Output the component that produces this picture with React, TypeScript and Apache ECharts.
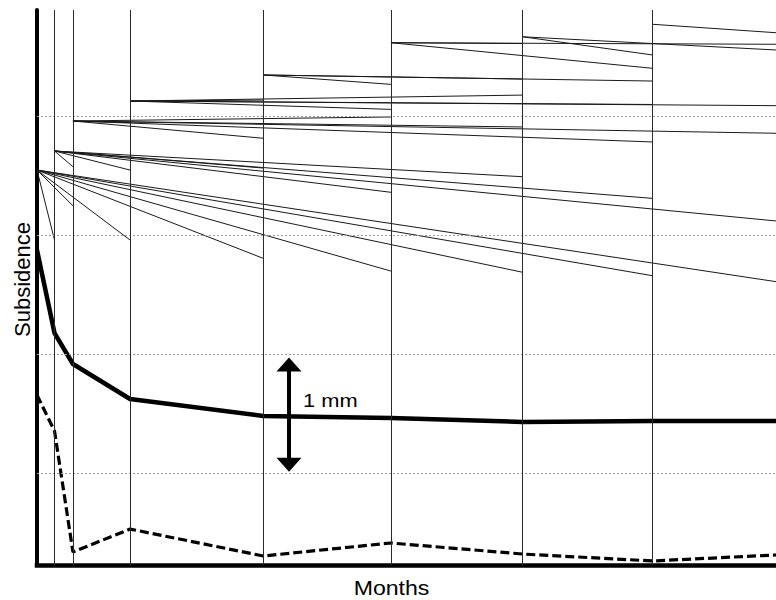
import React, { useEffect, useRef } from "react";
import * as echarts from "echarts";

// x: months (value axis), y: subsidence in mm (inverse axis, 0 = first grid level)
const xMax = 5.654;
const yTop = -0.891;
const yBottom = 3.773;

// checkpoints (index 8 = right edge of the plot)
const checkpoints = [0, 0.134, 0.275, 0.712, 1.731, 2.708, 3.715, 4.709, 5.654];
const verticalLines = [0.134, 0.275, 0.712, 1.731, 2.708, 3.715, 4.709];
const gridLevels = [0, 1, 2, 3];

// thick solid curve and dashed curve
const meanSubsidence = [1.126, 1.824, 2.084, 2.378, 2.521, 2.538, 2.571, 2.563, 2.563];
const rateSubsidence = [2.345, 2.647, 3.664, 3.471, 3.697, 3.588, 3.681, 3.739, 3.689];

// fan of thin segments: start level at checkpoint i, end levels at checkpoints i+1 ...
const fanStart = [0.454, 0.294, 0.042, -0.126, -0.345, -0.616, -0.666, -0.771];
const fanEnds0 = [1.042, 0.754, 1.042, 1.196, 1.303, 1.313, 1.342, 1.392];
const fanEnds1 = [0.426, 0.454, 0.437, 0.641, 0.51, 0.692, 0.882];
const fanEnds2 = [0.055, 0.187, 0.008, 0.092, 0.218, 0.145];
const fanEnds3 = [-0.134, -0.056, -0.176, -0.097, -0.087];
const fanEnds4 = [-0.266, -0.311, -0.294, null];
const fanEnds5 = [-0.609, -0.401, -0.603];
const fanEnds6 = [-0.513, -0.555];
const fanEnds7 = [-0.7];

// 1 mm scale arrow
const arrowMonth = 1.928;
const arrowFrom = 2.03;
const arrowTo = 2.99;
const arrowLabel = "1 mm";
const arrowLabelLevel = 2.385;

const xTitle = "Months";
const yTitle = "Subsidence";

const FONT = '"Liberation Sans", Arial, Helvetica, sans-serif';

function buildFan() {
  const all = [fanEnds0, fanEnds1, fanEnds2, fanEnds3, fanEnds4, fanEnds5, fanEnds6, fanEnds7];
  const out: any[] = [];
  all.forEach((ends, i) => {
    ends.forEach((v, k) => {
      if (v === null || v === undefined) return;
      out.push({
        coords: [
          [checkpoints[i], fanStart[i]],
          [checkpoints[i + 1 + k], v],
        ],
      });
    });
  });
  return out;
}

export default function App() {
  const ref = useRef<HTMLDivElement>(null);
  useEffect(() => {
    if (!ref.current) return;
    const chart = echarts.init(ref.current, undefined, { renderer: "svg" });
    const markData: any[] = [];
    gridLevels.forEach((g) =>
      markData.push({
        yAxis: g,
        lineStyle: { color: "#9a9a9a", width: 1, type: [2, 2] },
      })
    );
    verticalLines.forEach((v) =>
      markData.push({
        xAxis: v,
        lineStyle: { color: "#2a2a2a", width: 1, type: "solid" },
      })
    );
    chart.setOption({
      animation: false,
      backgroundColor: "#fff",
      grid: { left: 37, right: 0, top: 10, bottom: 35, containLabel: false },
      xAxis: {
        type: "value",
        min: 0,
        max: xMax,
        position: "bottom",
        axisLine: { show: true, onZero: false, lineStyle: { color: "#000", width: 4.5, cap: "square" } },
        axisTick: { show: false },
        axisLabel: { show: false },
        splitLine: { show: false },
      },
      yAxis: {
        type: "value",
        inverse: true,
        min: yTop,
        max: yBottom,
        axisLine: { show: true, onZero: false, lineStyle: { color: "#000", width: 4 } },
        axisTick: { show: false },
        axisLabel: { show: false },
        splitLine: { show: false },
      },
      series: [
        {
          type: "line",
          name: "grid",
          data: [],
          silent: true,
          z: 1,
          markLine: {
            silent: true,
            symbol: "none",
            label: { show: false },
            animation: false,
            data: markData,
          },
        },
        {
          type: "lines",
          coordinateSystem: "cartesian2d",
          silent: true,
          z: 2,
          lineStyle: { color: "#1a1a1a", width: 1, opacity: 1 },
          data: buildFan(),
        },
        {
          type: "line",
          name: "mean",
          z: 3,
          data: checkpoints.map((x, i) => [x, meanSubsidence[i]]),
          symbol: "none",
          lineStyle: { color: "#000", width: 4.5, join: "round" },
          silent: true,
        },
        {
          type: "line",
          name: "rate",
          z: 3,
          data: checkpoints.map((x, i) => [x, rateSubsidence[i]]),
          symbol: "none",
          lineStyle: { color: "#000", width: 3.2, type: [9, 4] },
          silent: true,
        },
      ],
    });

    const conv = (x: number, y: number) =>
      chart.convertToPixel({ xAxisIndex: 0, yAxisIndex: 0 }, [x, y]) as number[];
    const [ax, ayTop] = conv(arrowMonth, arrowFrom);
    const [, ayBot] = conv(arrowMonth, arrowTo);
    const [, labelY] = conv(arrowMonth, arrowLabelLevel);
    const headH = 14;
    const headW = 12.5;
    const [, xAxisY] = conv(0, yBottom);
    const [xLeft] = conv(0, 0);
    const [xRight] = conv(xMax, 0);
    const [, yTopPx] = conv(0, yTop);

    chart.setOption({
      graphic: [
        {
          type: "line",
          shape: { x1: ax, y1: ayTop + headH - 1, x2: ax, y2: ayBot - headH + 1 },
          style: { stroke: "#000", lineWidth: 4 },
          z: 10,
        },
        {
          type: "polygon",
          shape: { points: [[ax, ayTop], [ax - headW, ayTop + headH], [ax + headW, ayTop + headH]] },
          style: { fill: "#000" },
          z: 10,
        },
        {
          type: "polygon",
          shape: { points: [[ax, ayBot], [ax - headW, ayBot - headH], [ax + headW, ayBot - headH]] },
          style: { fill: "#000" },
          z: 10,
        },
        {
          type: "text",
          x: ax + 14,
          y: labelY,
          scaleX: 1.15,
          style: { text: arrowLabel, font: `19px ${FONT}`, fill: "#000", verticalAlign: "middle", align: "left" },
          z: 10,
        },
        {
          type: "text",
          x: (xLeft + xRight) / 2 - 15,
          y: xAxisY + 23,
          scaleX: 1.1,
          style: { text: xTitle, font: `21px ${FONT}`, fill: "#000", verticalAlign: "middle", align: "center" },
          z: 10,
        },
        {
          type: "text",
          x: 22,
          y: (yTopPx + xAxisY) / 2 - 8,
          rotation: Math.PI / 2,
          style: { text: yTitle, font: `22px ${FONT}`, fill: "#000", verticalAlign: "middle", align: "center" },
          z: 10,
        },
      ],
    });
    return () => chart.dispose();
  }, []);
  return (
    <div
      ref={ref}
      style={{ position: "fixed", left: 0, top: 0, width: 776, height: 600, background: "#fff" }}
    />
  );
}
